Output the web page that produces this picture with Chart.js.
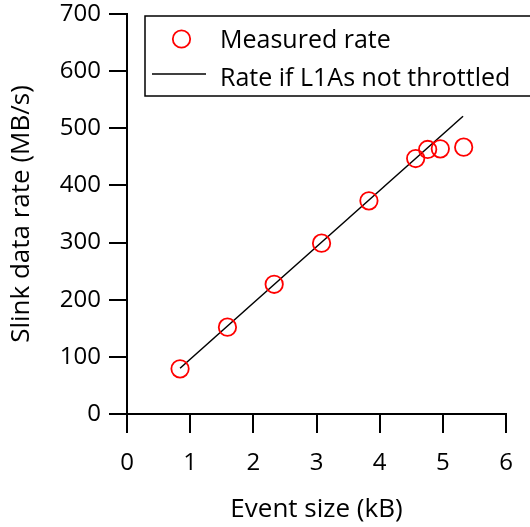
<!DOCTYPE html>
<html>
<head>
<meta charset="utf-8">
<script src="https://cdn.jsdelivr.net/npm/chart.js@4.4.1/dist/chart.umd.min.js"></script>
<style>
  html, body { margin: 0; padding: 0; background: #fff; }
  #wrap { width: 530px; height: 527px; }
</style>
</head>
<body>
<div id="wrap"><canvas id="grafico"></canvas></div>
<script>
// datos
const tamanoEvento = [0.84, 1.59, 2.33, 3.08, 3.83, 4.57, 4.76, 4.96, 5.33];
const tasaMedida = [79, 152, 227, 299, 373, 447, 463, 464, 467];
const lineaX = [0.84, 5.32];
const lineaY = [80, 521];
const etiquetas = ['Measured rate', 'Rate if L1As not throttled'];
const tituloX = 'Event size (kB)';
const tituloY = 'Slink data rate (MB/s)';

const fuente = "'Open Sans', 'DejaVu Sans', sans-serif";

// leyenda con caja, dibujada a mano
const leyendaCaja = {
  id: 'leyendaCaja',
  afterDraw(chart) {
    const ctx = chart.ctx;
    ctx.save();
    ctx.strokeStyle = '#000';
    ctx.lineWidth = 1.5;
    ctx.strokeRect(145, 16, 400, 80);
    // circulo
    ctx.strokeStyle = 'red';
    ctx.lineWidth = 1.8;
    ctx.beginPath();
    ctx.arc(181.5, 39, 8.7, 0, Math.PI * 2);
    ctx.stroke();
    // linea
    ctx.strokeStyle = '#000';
    ctx.lineWidth = 1.5;
    ctx.beginPath();
    ctx.moveTo(152, 74);
    ctx.lineTo(206, 74);
    ctx.stroke();
    ctx.fillStyle = '#000';
    ctx.font = '25px ' + fuente;
    ctx.textBaseline = 'alphabetic';
    ctx.fillText(etiquetas[0], 220, 48);
    ctx.fillText(etiquetas[1], 220, 86);
    ctx.restore();
  }
};

const ctx = document.getElementById('grafico').getContext('2d');
new Chart(ctx, {
  type: 'scatter',
  data: {
    datasets: [{
      label: etiquetas[0],
      data: tamanoEvento.map((x, i) => ({ x: x, y: tasaMedida[i] })),
      pointStyle: 'circle',
      pointRadius: 8.7,
      pointBorderColor: 'red',
      pointBackgroundColor: 'rgba(0,0,0,0)',
      pointBorderWidth: 1.8,
      showLine: false
    }, {
      label: etiquetas[1],
      data: lineaX.map((x, i) => ({ x: x, y: lineaY[i] })),
      showLine: true,
      borderColor: '#000',
      borderWidth: 1.5,
      pointRadius: 0
    }]
  },
  options: {
    responsive: true,
    maintainAspectRatio: false,
    animation: false,
    layout: { padding: { top: 14, right: 24, left: 0, bottom: 0 } },
    plugins: {
      legend: { display: false },
      tooltip: { enabled: false }
    },
    scales: {
      x: {
        type: 'linear',
        min: 0,
        max: 6,
        ticks: { stepSize: 1, color: '#000', font: { family: fuente, size: 24 }, padding: 16 },
        grid: { drawOnChartArea: false, drawTicks: true, tickLength: 19, color: '#000', lineWidth: 2 },
        border: { color: '#000', width: 2 },
        title: { display: true, text: tituloX, color: '#000', font: { family: fuente, size: 26 }, padding: { top: 4, bottom: 2 } },
        afterFit(scale) {
          scale.height = 113;
          scale.paddingLeft = 0;
          scale.paddingRight = 0;
        }
      },
      y: {
        min: 0,
        max: 700,
        ticks: { stepSize: 100, color: '#000', font: { family: fuente, size: 24 }, padding: 8 },
        grid: { drawOnChartArea: false, drawTicks: true, tickLength: 18, color: '#000', lineWidth: 2 },
        border: { color: '#000', width: 2 },
        title: { display: true, text: tituloY, color: '#000', font: { family: fuente, size: 26 }, padding: { top: 6, bottom: 4 } },
        afterFit(scale) {
          scale.width = 127;
          scale.paddingTop = 0;
          scale.paddingBottom = 0;
        }
      }
    }
  },
  plugins: [leyendaCaja]
});
</script>
</body>
</html>
